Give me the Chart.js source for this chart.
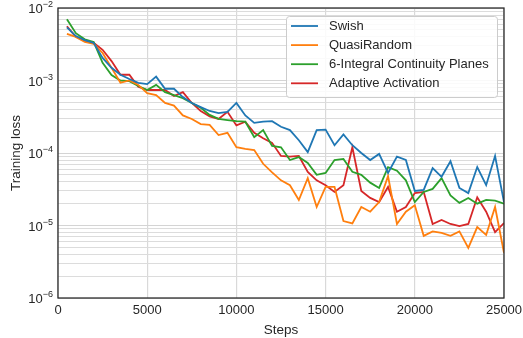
<!DOCTYPE html>
<html>
<head>
<meta charset="utf-8">
<script src="https://cdn.jsdelivr.net/npm/chart.js@4/dist/chart.umd.min.js"></script>
<style>
  html, body { margin: 0; padding: 0; background: #fff; }
  #wrap { width: 523px; height: 338px; }
</style>
</head>
<body>
<div id="wrap"><canvas id="myChart" width="523" height="338"></canvas></div>
<script>
// training steps (x values)
var steps = [500, 1000, 1500, 2000, 2500, 3000, 3500, 4000, 4500, 5000,
  5500, 6000, 6500, 7000, 7500, 8000, 8500, 9000, 9500, 10000,
  10500, 11000, 11500, 12000, 12500, 13000, 13500, 14000, 14500, 15000,
  15500, 16000, 16500, 17000, 17500, 18000, 18500, 19000, 19500, 20000,
  20500, 21000, 21500, 22000, 22500, 23000, 23500, 24000, 24500, 25000];

var swish = [5.4e-3, 4.1e-3, 3.6e-3, 3.3e-3, 2.05e-3, 1.5e-3, 1.2e-3, 1.05e-3, 9.3e-4, 8.9e-4,
  1.13e-3, 7.7e-4, 7.7e-4, 5.9e-4, 4.9e-4, 4.3e-4, 3.8e-4, 3.55e-4, 3.7e-4, 4.9e-4,
  3.3e-4, 2.6e-4, 2.7e-4, 2.75e-4, 2.3e-4, 2.07e-4, 1.5e-4, 1.03e-4, 2.07e-4, 2.1e-4,
  1.28e-4, 1.8e-4, 1.28e-4, 1.0e-4, 8.0e-5, 9.7e-5, 5.3e-5, 8.9e-5, 8.0e-5, 3.0e-5,
  3.1e-5, 6.2e-5, 4.7e-5, 7.7e-5, 3.3e-5, 2.8e-5, 6.4e-5, 3.6e-5, 9.1e-5, 2.1e-5];

var quasiRandom = [4.4e-3, 4.0e-3, 3.4e-3, 3.2e-3, 2.4e-3, 1.5e-3, 9.3e-4, 1.0e-3, 8.7e-4, 6.7e-4,
  6.3e-4, 4.9e-4, 4.5e-4, 3.3e-4, 2.95e-4, 2.5e-4, 2.45e-4, 1.77e-4, 1.9e-4, 1.2e-4,
  1.14e-4, 1.1e-4, 7.1e-5, 5.4e-5, 4.2e-5, 3.6e-5, 2.25e-5, 4.5e-5, 1.8e-5, 3.4e-5,
  3.4e-5, 1.15e-5, 1.07e-5, 1.8e-5, 1.55e-5, 2.1e-5, 4.8e-5, 1.05e-5, 1.55e-5, 1.9e-5,
  7.2e-6, 8.3e-6, 7.9e-6, 7.2e-6, 8.3e-6, 4.9e-6, 9.5e-6, 7.4e-6, 1.8e-5, 4.2e-6];

var integralPlanes = [7.0e-3, 4.5e-3, 3.7e-3, 3.4e-3, 1.75e-3, 1.19e-3, 1.0e-3, 9.8e-4, 8.4e-4, 7.4e-4,
  8.7e-4, 6.9e-4, 6.3e-4, 5.7e-4, 4.9e-4, 4.2e-4, 3.35e-4, 2.95e-4, 2.85e-4, 2.75e-4,
  2.7e-4, 1.65e-4, 2.07e-4, 1.25e-4, 1.2e-4, 8.0e-5, 8.8e-5, 7.3e-5, 5.0e-5, 5.3e-5,
  8.0e-5, 8.3e-5, 5.5e-5, 5.0e-5, 3.9e-5, 3.3e-5, 6.4e-5, 5.7e-5, 4.2e-5, 2.1e-5,
  2.9e-5, 3.2e-5, 4.5e-5, 2.6e-5, 2.05e-5, 2.4e-5, 2.0e-5, 2.25e-5, 2.2e-5, 2.0e-5];

var adaptive = [5.6e-3, 4.0e-3, 3.5e-3, 3.3e-3, 2.65e-3, 1.85e-3, 1.2e-3, 1.2e-3, 8.2e-4, 7.4e-4,
  7.4e-4, 7.4e-4, 6.1e-4, 6.9e-4, 4.9e-4, 3.8e-4, 3.2e-4, 2.95e-4, 3.7e-4, 2.4e-4,
  2.7e-4, 1.9e-4, 1.6e-4, 1.38e-4, 9.1e-5, 8.9e-5, 9.1e-5, 5.5e-5, 4.2e-5, 3.6e-5,
  2.9e-5, 3.6e-5, 1.2e-4, 3.0e-5, 2.4e-5, 2.1e-5, 3.4e-5, 1.55e-5, 1.8e-5, 2.8e-5,
  2.9e-5, 1.05e-5, 1.19e-5, 1.05e-5, 9.8e-6, 1.05e-5, 2.45e-5, 1.55e-5, 8.1e-6, 1.08e-5];

var seriesLabels = ["Swish", "QuasiRandom", "6-Integral Continuity Planes", "Adaptive Activation"];
var xTicks = [0, 5000, 10000, 15000, 20000, 25000];
var yExponents = [-6, -5, -4, -3, -2];

var colors = ["#1f77b4", "#ff7f0e", "#2ca02c", "#d62728"];
var font = "'Liberation Sans', Arial, sans-serif";
var textColor = "#262626";

function toPoints(values) {
  return values.map(function (v, i) { return { x: steps[i], y: v }; });
}

function isMajor(v) {
  var l = Math.log10(v);
  return Math.abs(l - Math.round(l)) < 1e-6;
}

// frame, y tick labels with superscript exponents, legend inside the plot
var extras = {
  id: "extras",
  afterDraw: function (chart) {
    var ctx = chart.ctx;
    var a = chart.chartArea;
    var yScale = chart.scales.y;
    ctx.save();
    ctx.strokeStyle = "#262626";
    ctx.lineWidth = 1.25;
    ctx.strokeRect(a.left, a.top, a.right - a.left, a.bottom - a.top);

    // y tick labels: 10^e
    ctx.fillStyle = textColor;
    ctx.textBaseline = "alphabetic";
    yExponents.forEach(function (e) {
      var y = yScale.getPixelForValue(Math.pow(10, e));
      var expTxt = "\u2212" + String(-e);
      ctx.font = "9px " + font;
      var ew = ctx.measureText(expTxt).width;
      ctx.font = "13px " + font;
      var bw = ctx.measureText("10").width;
      var right = a.left - 5;
      ctx.textAlign = "left";
      ctx.fillText("10", right - ew - bw, y + 5);
      ctx.font = "9px " + font;
      ctx.fillText(expTxt, right - ew, y - 1);
    });

    var bx = 286, by = 16, bw2 = 211, bh = 81;
    ctx.fillStyle = "rgba(255,255,255,0.85)";
    ctx.strokeStyle = "#cccccc";
    ctx.lineWidth = 1;
    ctx.beginPath();
    ctx.roundRect(bx + 0.5, by + 0.5, bw2, bh, 3);
    ctx.fill();
    ctx.stroke();

    ctx.font = "13px " + font;
    ctx.textBaseline = "middle";
    ctx.textAlign = "left";
    chart.data.datasets.forEach(function (ds, i) {
      var y = 26 + i * 19.1;
      ctx.strokeStyle = ds.borderColor;
      ctx.lineWidth = 1.8;
      ctx.beginPath();
      ctx.moveTo(291, y);
      ctx.lineTo(318, y);
      ctx.stroke();
      ctx.fillStyle = textColor;
      ctx.fillText(ds.label, 329, y + 0.5);
    });
    ctx.restore();
  }
};

var datasets = [swish, quasiRandom, integralPlanes, adaptive].map(function (vals, i) {
  return {
    label: seriesLabels[i],
    data: toPoints(vals),
    borderColor: colors[i],
    backgroundColor: colors[i],
    borderWidth: 1.8,
    pointRadius: 0,
    tension: 0,
    fill: false
  };
});

var ctx = document.getElementById("myChart").getContext("2d");
var myChart = new Chart(ctx, {
  type: "line",
  data: { datasets: datasets },
  options: {
    responsive: false,
    animation: false,
    layout: { padding: { top: 8, right: 19, left: 0, bottom: 0 } },
    plugins: {
      legend: { display: false },
      tooltip: { enabled: false }
    },
    scales: {
      x: {
        type: "linear",
        min: 0,
        max: 25000,
        afterBuildTicks: function (scale) {
          scale.ticks = xTicks.map(function (v) { return { value: v }; });
        },
        afterFit: function (scale) {
          scale.height = 40;
          scale.paddingLeft = 0;
          scale.paddingRight = 0;
        },
        ticks: {
          color: textColor,
          font: { family: font, size: 13 },
          padding: 5,
          maxRotation: 0,
          autoSkip: false,
          callback: function (value) { return String(value); }
        },
        grid: { color: "#d9d9d9", lineWidth: 1.2, drawTicks: false },
        border: { display: false },
        title: {
          display: true,
          text: "Steps",
          color: textColor,
          font: { family: font, size: 13.5 },
          padding: { top: 1, bottom: 0 }
        }
      },
      y: {
        type: "logarithmic",
        min: 1e-6,
        max: 1e-2,
        afterBuildTicks: function (scale) {
          var t = [];
          yExponents.forEach(function (e) {
            for (var m = 1; m <= 9; m++) {
              var v = m * Math.pow(10, e);
              if (v <= 1e-2 * 1.0001) t.push({ value: v, major: m === 1 });
            }
          });
          scale.ticks = t;
        },
        afterFit: function (scale) {
          scale.width = 58;
          scale.paddingTop = 0;
          scale.paddingBottom = 0;
        },
        ticks: {
          autoSkip: false,
          color: "rgba(0,0,0,0)",
          font: { family: font, size: 11 },
          padding: 4,
          callback: function () { return ""; }
        },
        grid: {
          drawTicks: false,
          color: function (c) {
            return c.tick && isMajor(c.tick.value) ? "#d4d4d4" : "#dcdcdc";
          },
          lineWidth: 1
        },
        border: { display: false },
        title: {
          display: true,
          text: "Training loss",
          color: textColor,
          font: { family: font, size: 13.5 },
          padding: { top: 8, bottom: 0 }
        }
      }
    }
  },
  plugins: [extras]
});
</script>
</body>
</html>
